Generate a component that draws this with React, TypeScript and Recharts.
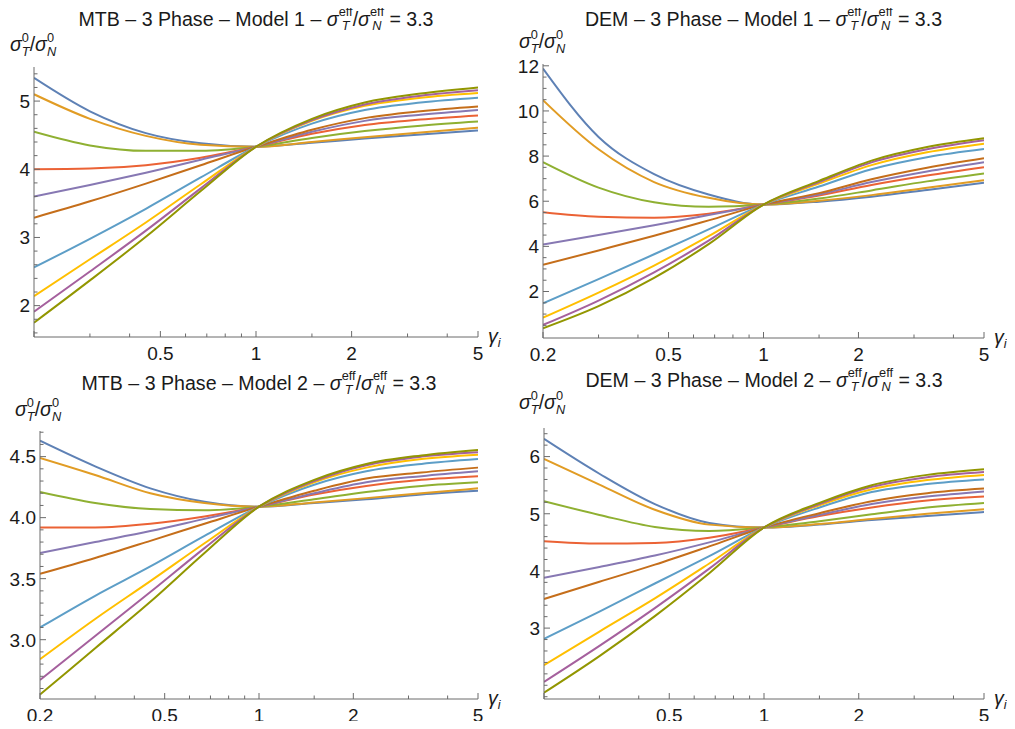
import React from 'react';
import { LineChart, Line, XAxis, YAxis } from 'recharts';

// sample points along gamma_i (log axis)
const gammaValues = [0.2, 0.3, 0.45, 0.67, 1, 1.5, 2.2, 3.3, 5];

// Mathematica default palette, one per curve
const curveColors = [
  '#5E81B5', '#E19C24', '#8FB032', '#EB6235', '#8778B3',
  '#C56E1A', '#5D9EC7', '#FFBF00', '#A5609D', '#929600',
];

// MTB - Model 1 (rows follow curveColors)
const mtbModel1 = [
  [5.34, 4.85, 4.53, 4.38, 4.33, 4.39, 4.45, 4.51, 4.57],
  [5.10, 4.74, 4.49, 4.36, 4.33, 4.40, 4.47, 4.54, 4.61],
  [4.55, 4.35, 4.27, 4.27, 4.33, 4.46, 4.56, 4.64, 4.70],
  [4.00, 4.01, 4.06, 4.17, 4.33, 4.52, 4.65, 4.73, 4.79],
  [3.60, 3.77, 3.95, 4.14, 4.33, 4.55, 4.71, 4.80, 4.87],
  [3.29, 3.53, 3.79, 4.06, 4.33, 4.58, 4.75, 4.85, 4.92],
  [2.56, 2.98, 3.42, 3.88, 4.33, 4.67, 4.87, 4.98, 5.05],
  [2.14, 2.68, 3.22, 3.78, 4.33, 4.71, 4.93, 5.05, 5.12],
  [1.91, 2.50, 3.10, 3.72, 4.33, 4.72, 4.95, 5.08, 5.16],
  [1.75, 2.37, 3.01, 3.68, 4.33, 4.74, 4.98, 5.11, 5.20],
];

// DEM - Model 1
const demModel1 = [
  [11.88, 8.85, 7.20, 6.30, 5.85, 5.98, 6.20, 6.50, 6.82],
  [10.48, 8.30, 6.85, 6.15, 5.85, 6.02, 6.27, 6.60, 6.93],
  [7.73, 6.60, 5.95, 5.75, 5.85, 6.12, 6.48, 6.88, 7.23],
  [5.51, 5.31, 5.27, 5.45, 5.85, 6.25, 6.72, 7.14, 7.51],
  [4.08, 4.50, 4.94, 5.39, 5.85, 6.30, 6.85, 7.32, 7.73],
  [3.18, 3.82, 4.47, 5.15, 5.85, 6.36, 6.97, 7.48, 7.90],
  [1.48, 2.55, 3.65, 4.75, 5.85, 6.65, 7.42, 7.95, 8.31],
  [0.84, 1.95, 3.15, 4.45, 5.85, 6.78, 7.60, 8.17, 8.55],
  [0.52, 1.60, 2.85, 4.25, 5.85, 6.85, 7.72, 8.30, 8.70],
  [0.37, 1.35, 2.60, 4.10, 5.85, 6.90, 7.80, 8.40, 8.79],
];

// MTB - Model 2
const mtbModel2 = [
  [4.63, 4.42, 4.24, 4.13, 4.09, 4.12, 4.15, 4.19, 4.22],
  [4.49, 4.35, 4.20, 4.12, 4.09, 4.125, 4.16, 4.20, 4.24],
  [4.21, 4.12, 4.07, 4.06, 4.09, 4.15, 4.21, 4.26, 4.29],
  [3.92, 3.92, 3.95, 4.01, 4.09, 4.19, 4.26, 4.31, 4.34],
  [3.71, 3.80, 3.89, 3.99, 4.09, 4.20, 4.29, 4.34, 4.38],
  [3.54, 3.67, 3.81, 3.95, 4.09, 4.22, 4.32, 4.37, 4.41],
  [3.10, 3.36, 3.60, 3.85, 4.09, 4.27, 4.38, 4.44, 4.48],
  [2.84, 3.17, 3.48, 3.79, 4.09, 4.29, 4.41, 4.48, 4.516],
  [2.67, 3.03, 3.39, 3.75, 4.09, 4.30, 4.43, 4.50, 4.536],
  [2.55, 2.93, 3.31, 3.71, 4.09, 4.31, 4.44, 4.51, 4.555],
];

// DEM - Model 2
const demModel2 = [
  [6.31, 5.70, 5.17, 4.84, 4.76, 4.81, 4.89, 4.96, 5.03],
  [5.96, 5.51, 5.07, 4.81, 4.76, 4.82, 4.91, 5.00, 5.08],
  [5.22, 4.98, 4.77, 4.70, 4.76, 4.87, 4.99, 5.11, 5.19],
  [4.52, 4.48, 4.49, 4.58, 4.76, 4.96, 5.11, 5.23, 5.30],
  [3.88, 4.07, 4.27, 4.50, 4.76, 4.98, 5.17, 5.30, 5.39],
  [3.51, 3.81, 4.11, 4.43, 4.76, 5.01, 5.22, 5.36, 5.44],
  [2.81, 3.29, 3.78, 4.26, 4.76, 5.11, 5.38, 5.52, 5.60],
  [2.35, 2.94, 3.52, 4.13, 4.76, 5.15, 5.43, 5.59, 5.68],
  [2.06, 2.69, 3.35, 4.04, 4.76, 5.17, 5.47, 5.64, 5.73],
  [1.87, 2.51, 3.21, 3.96, 4.76, 5.19, 5.50, 5.68, 5.78],
];

const xTicks = [0.2, 0.3, 0.4, 0.5, 0.6, 0.7, 0.8, 0.9, 1, 1.5, 2, 3, 4, 5];
const xMajor = [0.2, 0.5, 1, 2, 5];

const yTicksMtb1 = [1.6, 1.8, 2, 2.2, 2.4, 2.6, 2.8, 3, 3.2, 3.4, 3.6, 3.8, 4, 4.2, 4.4, 4.6, 4.8, 5, 5.2, 5.4];
const yMajorMtb1 = [2, 3, 4, 5];
const yTicksDem1 = [0.5, 1, 1.5, 2, 2.5, 3, 3.5, 4, 4.5, 5, 5.5, 6, 6.5, 7, 7.5, 8, 8.5, 9, 9.5, 10, 10.5, 11, 11.5, 12];
const yMajorDem1 = [2, 4, 6, 8, 10, 12];
const yTicksMtb2 = [2.6, 2.7, 2.8, 2.9, 3, 3.1, 3.2, 3.3, 3.4, 3.5, 3.6, 3.7, 3.8, 3.9, 4, 4.1, 4.2, 4.3, 4.4, 4.5, 4.6, 4.7];
const yMajorMtb2 = [3, 3.5, 4, 4.5];
const yTicksDem2 = [1.8, 2, 2.2, 2.4, 2.6, 2.8, 3, 3.2, 3.4, 3.6, 3.8, 4, 4.2, 4.4, 4.6, 4.8, 5, 5.2, 5.4, 5.6, 5.8, 6, 6.2, 6.4];
const yMajorDem2 = [3, 4, 5, 6];

const axisColor = '#6b6b6b';
const font = '"Liberation Sans", Arial, sans-serif';
const tickSize = 19;
const titleSize = 19.6;

// superscript stacked over subscript; rise = sup baseline shift, gap = distance between the two baselines
function Stack({ sup, sub, rise, gap }: { sup: string; sub: string; rise: number; gap: number }) {
  return (
    <span
      style={{
        display: 'inline-flex',
        flexDirection: 'column',
        fontSize: 12.8,
        lineHeight: gap + 'px',
        position: 'relative',
        top: -rise,
      }}
    >
      <span>{sup}</span>
      <span style={{ fontStyle: 'italic' }}>{sub}</span>
    </span>
  );
}

function SigmaRatio({ sup, rise, gap }: { sup: string; rise: number; gap: number }) {
  return (
    <>
      <i>σ</i>
      <Stack sup={sup} sub="T" rise={rise} gap={gap} />/<i>σ</i>
      <Stack sup={sup} sub="N" rise={rise} gap={gap} />
    </>
  );
}

type PanelProps = {
  method: string;
  model: string;
  series: number[][];
  plot: { left: number; top: number; right: number; bottom: number };
  titleBaseline: number;
  labelLeft: number;
  labelBaseline: number;
  yDomain: [number, number];
  yTicks: number[];
  yMajor: number[];
  yDigits: number;
  showFirstX: boolean;
};

function Panel(p: PanelProps) {
  const data = gammaValues.map((g, i) => {
    const row: Record<string, number> = { g };
    p.series.forEach((s, k) => {
      row['c' + k] = s[i];
    });
    return row;
  });

  const chartLeft = p.plot.left - 38;
  const chartTop = p.plot.top - 10;
  const width = p.plot.right - chartLeft + 30;
  const height = p.plot.bottom - chartTop + 30;
  const center = (p.plot.left + p.plot.right) / 2;
  const textTop = (baseline: number) => baseline - 17.8;

  const xTick = (props: any) => {
    const { x, y, payload } = props;
    const v = payload.value;
    const major = xMajor.includes(v);
    return (
      <g>
        <line x1={x} x2={x} y1={y} y2={y - (major ? 6 : 3.5)} stroke={axisColor} />
        {major && (p.showFirstX || v !== 0.2) && (
          <text x={x} y={y + 23} textAnchor="middle" fontSize={tickSize} fontFamily={font} fill="#1a1a1a">
            {String(v)}
          </text>
        )}
      </g>
    );
  };

  const yTick = (props: any) => {
    const { x, y, payload } = props;
    const v = payload.value;
    const major = p.yMajor.includes(v);
    return (
      <g>
        <line x1={x} x2={x + (major ? 6 : 3.5)} y1={y} y2={y} stroke={axisColor} />
        {major && (
          <text x={x - 4} y={y} dy="0.36em" textAnchor="end" fontSize={tickSize} fontFamily={font} fill="#1a1a1a">
            {v.toFixed(p.yDigits)}
          </text>
        )}
      </g>
    );
  };

  return (
    <>
      <div
        style={{
          position: 'absolute',
          left: center - 250,
          width: 500,
          top: textTop(p.titleBaseline),
          textAlign: 'center',
          fontSize: titleSize,
          lineHeight: '22px',
          whiteSpace: 'nowrap',
        }}
      >
        {p.method} – 3 Phase – {p.model} – <SigmaRatio sup="eff" rise={10} gap={13.5} /> = 3.3
      </div>
      <div
        style={{
          position: 'absolute',
          left: p.labelLeft,
          top: textTop(p.labelBaseline),
          fontSize: titleSize,
          lineHeight: '22px',
          whiteSpace: 'nowrap',
        }}
      >
        <SigmaRatio sup="0" rise={9} gap={13.5} />
      </div>
      <div
        style={{
          position: 'absolute',
          left: p.plot.right + 10,
          top: textTop(p.plot.bottom + 6),
          fontSize: titleSize,
          lineHeight: '22px',
          whiteSpace: 'nowrap',
        }}
      >
        <i>γ</i>
        <span style={{ fontSize: 12.8, fontStyle: 'italic', position: 'relative', top: 4 }}>i</span>
      </div>
      <div style={{ position: 'absolute', left: chartLeft, top: chartTop }}>
        <LineChart width={width} height={height} data={data} margin={{ top: 10, right: 30, bottom: 0, left: 6 }}>
          <XAxis
            dataKey="g"
            type="number"
            scale="log"
            domain={[0.2, 5]}
            allowDataOverflow
            ticks={xTicks}
            interval={0}
            tickSize={0}
            tickMargin={0}
            height={30}
            stroke={axisColor}
            tick={xTick}
          />
          <YAxis
            type="number"
            domain={p.yDomain}
            allowDataOverflow
            ticks={p.yTicks}
            interval={0}
            tickSize={0}
            tickMargin={0}
            width={32}
            stroke={axisColor}
            tick={yTick}
          />
          {p.series.map((_, k) => (
            <Line
              key={k}
              dataKey={'c' + k}
              type="monotone"
              stroke={curveColors[k]}
              strokeWidth={2}
              dot={false}
              isAnimationActive={false}
            />
          ))}
        </LineChart>
      </div>
    </>
  );
}

export default function App() {
  return (
    <div
      style={{
        position: 'relative',
        width: 1015,
        height: 729,
        margin: -8,
        background: '#fff',
        fontFamily: font,
        color: '#1a1a1a',
      }}
    >
      <Panel
        method="MTB"
        model="Model 1"
        series={mtbModel1}
        plot={{ left: 34, top: 67, right: 478, bottom: 337 }}
        titleBaseline={26}
        labelLeft={10}
        labelBaseline={51}
        yDomain={[1.54, 5.5]}
        yTicks={yTicksMtb1}
        yMajor={yMajorMtb1}
        yDigits={0}
        showFirstX={false}
      />
      <Panel
        method="DEM"
        model="Model 1"
        series={demModel1}
        plot={{ left: 543, top: 64, right: 984, bottom: 338 }}
        titleBaseline={26}
        labelLeft={519}
        labelBaseline={48}
        yDomain={[-0.06, 12.08]}
        yTicks={yTicksDem1}
        yMajor={yMajorDem1}
        yDigits={0}
        showFirstX={true}
      />
      <Panel
        method="MTB"
        model="Model 2"
        series={mtbModel2}
        plot={{ left: 40, top: 431, right: 478, bottom: 699 }}
        titleBaseline={390}
        labelLeft={15}
        labelBaseline={416}
        yDomain={[2.514, 4.71]}
        yTicks={yTicksMtb2}
        yMajor={yMajorMtb2}
        yDigits={1}
        showFirstX={true}
      />
      <Panel
        method="DEM"
        model="Model 2"
        series={demModel2}
        plot={{ left: 544, top: 428, right: 984, bottom: 699 }}
        titleBaseline={387}
        labelLeft={519}
        labelBaseline={409}
        yDomain={[1.76, 6.5]}
        yTicks={yTicksDem2}
        yMajor={yMajorDem2}
        yDigits={0}
        showFirstX={false}
      />
    </div>
  );
}
